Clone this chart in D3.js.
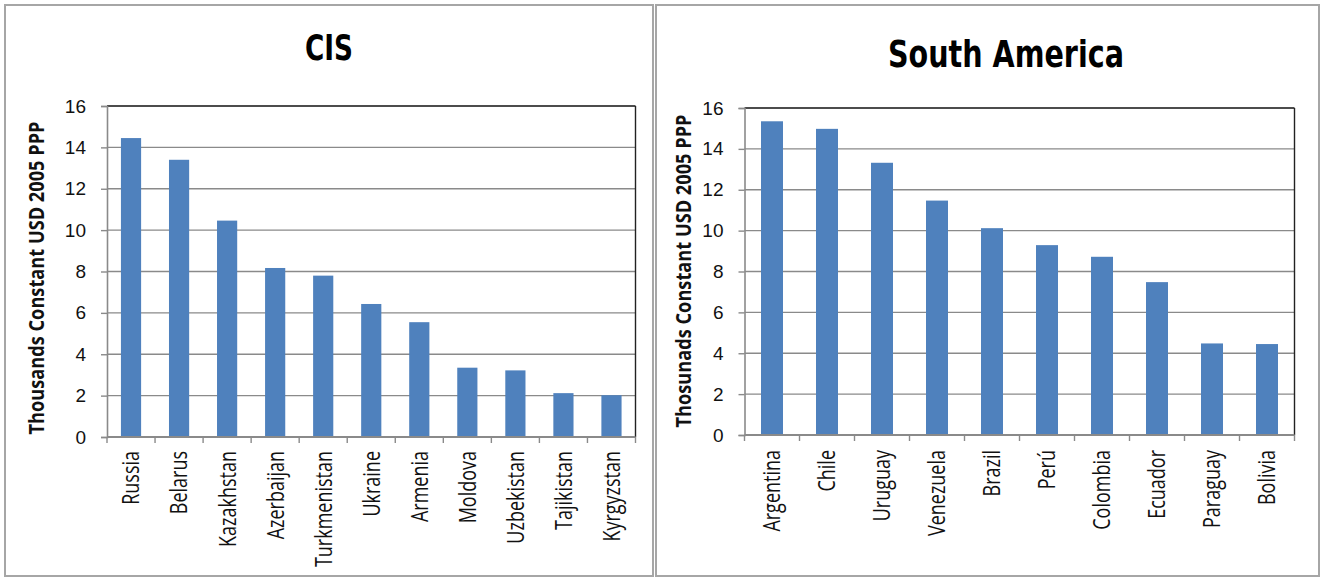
<!DOCTYPE html>
<html><head><meta charset="utf-8">
<script src="https://cdn.jsdelivr.net/npm/d3@7"></script>
<style>html,body{margin:0;padding:0;background:#fff;}svg{display:block;}</style>
</head><body>
<svg id="chart" width="1322" height="578"></svg>
<script>
// ---- data ----
const cisCountries = ["Russia","Belarus","Kazakhstan","Azerbaijan","Turkmenistan","Ukraine","Armenia","Moldova","Uzbekistan","Tajikistan","Kyrgyzstan"];
const cisValues = [14.45, 13.4, 10.46, 8.17, 7.8, 6.43, 5.55, 3.35, 3.22, 2.12, 2.02];
const saCountries = ["Argentina","Chile","Uruguay","Venezuela","Brazil","Perú","Colombia","Ecuador","Paraguay","Bolivia"];
const saValues = [15.35, 14.98, 13.32, 11.47, 10.12, 9.29, 8.72, 7.48, 4.48, 4.45];
const yTicks = [0, 2, 4, 6, 8, 10, 12, 14, 16];
const cisTitle = "CIS";
const saTitle = "South America";
const cisYLabel = "Thousands Constant USD 2005 PPP";
const saYLabel = "Thosunads Constant USD 2005 PPP";

const svg = d3.select("#chart");
const BAR = "#4F81BD";

function drawPanel(cfg) {
  const g = svg.append("g");
  // panel border
  g.append("rect").attr("x", cfg.box[0]).attr("y", cfg.box[1]).attr("width", cfg.box[2]).attr("height", cfg.box[3])
    .attr("fill", "#fff").attr("stroke", "#a6a6a6").attr("stroke-width", 2);

  const x = d3.scaleBand().domain(cfg.cats).range([cfg.plot.x0, cfg.plot.x1])
    .paddingInner(cfg.pad).paddingOuter(cfg.pad / 2);
  const y = d3.scaleLinear().domain([0, 16]).range([cfg.plot.y1, cfg.plot.y0]);

  // gridlines
  g.append("g").selectAll("line").data(yTicks.filter(t => t > 0 && t < 16)).join("line")
    .attr("x1", cfg.plot.x0).attr("x2", cfg.plot.x1)
    .attr("y1", d => y(d)).attr("y2", d => y(d))
    .attr("stroke", "#8a8a8a").attr("stroke-width", 1.4);

  // top & right border of plot (dark)
  g.append("line").attr("x1", cfg.plot.x0).attr("x2", cfg.plot.x1).attr("y1", y(16)).attr("y2", y(16))
    .attr("stroke", "#111").attr("stroke-width", 1.6);
  g.append("line").attr("x1", cfg.plot.x1).attr("x2", cfg.plot.x1).attr("y1", y(16)).attr("y2", y(0))
    .attr("stroke", "#222").attr("stroke-width", 1.4);

  // bars
  g.append("g").selectAll("rect").data(cfg.vals).join("rect")
    .attr("x", (d, i) => x(cfg.cats[i]))
    .attr("width", x.bandwidth())
    .attr("y", d => y(d))
    .attr("height", d => y(0) - y(d))
    .attr("fill", BAR);

  // y axis
  const yAxis = d3.axisLeft(y).tickValues(yTicks).tickSize(6).tickPadding(15).tickFormat(d3.format("d"));
  const ya = g.append("g").attr("transform", `translate(${cfg.plot.x0},0)`).call(yAxis);
  ya.select(".domain").attr("stroke", "#8a8a8a").attr("stroke-width", 1.6);
  ya.selectAll(".tick line").attr("stroke", "#8a8a8a").attr("stroke-width", 1.4);
  ya.selectAll(".tick text").attr("font-family", "'Liberation Sans', Arial, sans-serif")
    .attr("font-size", 19).attr("fill", "#111");

  // x axis (ticks at band boundaries)
  const bounds = cfg.cats.map(c => x(c) - x.step() * x.paddingInner() / 2).concat([cfg.plot.x1]);
  g.append("line").attr("x1", cfg.plot.x0).attr("x2", cfg.plot.x1).attr("y1", y(0)).attr("y2", y(0))
    .attr("stroke", "#8a8a8a").attr("stroke-width", 1.8);
  g.append("g").selectAll("line").data(bounds).join("line")
    .attr("x1", d => d).attr("x2", d => d).attr("y1", y(0)).attr("y2", y(0) + 6)
    .attr("stroke", "#8a8a8a").attr("stroke-width", 1.4);

  // x labels
  g.append("g").selectAll("text").data(cfg.cats).join("text")
    .attr("transform", d => `translate(${x(d) + x.bandwidth() / 2},${cfg.labelTop}) scale(1.3,1) rotate(-90)`)
    .attr("text-anchor", "end").attr("dy", "0.36em")
    .attr("font-family", "'Open Sans', sans-serif").attr("font-size", 18).attr("fill", "#111")
    .text(d => d);

  // y title
  g.append("text")
    .attr("transform", `translate(${cfg.yTitle[0]},${cfg.yTitle[1]}) scale(1.25,1) rotate(-90)`)
    .attr("text-anchor", "middle").attr("dy", "0.38em")
    .attr("font-family", "'Open Sans', sans-serif").attr("font-weight", "bold").attr("font-size", 17.5)
    .attr("textLength", 313).attr("lengthAdjust", "spacingAndGlyphs")
    .attr("fill", "#111").text(cfg.yLabel);

  // title
  g.append("text").attr("x", cfg.title[0]).attr("y", cfg.title[1])
    .attr("text-anchor", "middle")
    .attr("font-family", "'Liberation Sans Narrow', 'DejaVu Sans Condensed', sans-serif")
    .attr("font-weight", "bold").attr("font-size", cfg.titleSize)
    .attr("textLength", cfg.titleLen).attr("lengthAdjust", "spacingAndGlyphs")
    .attr("fill", "#000").text(cfg.titleText);
}

drawPanel({
  box: [5, 5, 648, 571],
  plot: { x0: 107, x1: 635.5, y0: 106, y1: 437 },
  cats: cisCountries, vals: cisValues, pad: 0.58,
  labelTop: 451, yTitle: [36, 278], yLabel: cisYLabel,
  title: [329, 60], titleText: cisTitle, titleSize: 35, titleLen: 48
});
drawPanel({
  box: [656, 5, 663, 571],
  plot: { x0: 744.5, x1: 1294.5, y0: 108, y1: 435 },
  cats: saCountries, vals: saValues, pad: 0.6,
  labelTop: 450, yTitle: [683, 271], yLabel: saYLabel,
  title: [1006, 67], titleText: saTitle, titleSize: 38, titleLen: 236
});
</script>
</body></html>
